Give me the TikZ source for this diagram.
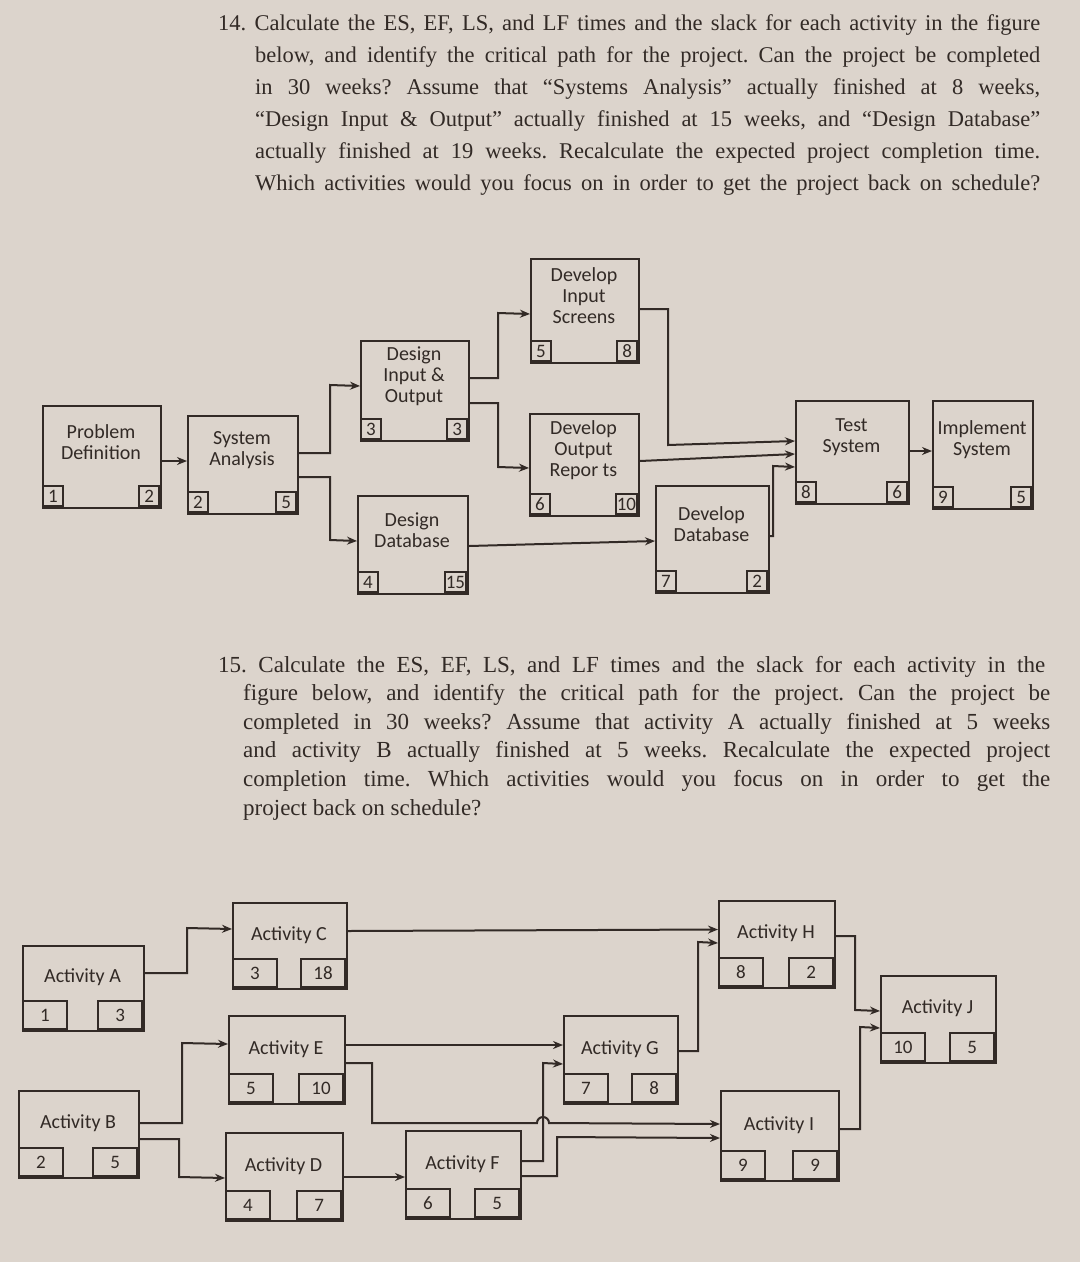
\documentclass[tikz,border=0pt]{standalone}
\usepackage{fontspec}
\setmainfont{Liberation Serif}
\newfontfamily\diafont{Carlito}
\usetikzlibrary{arrows.meta,calc}
\definecolor{paper}{RGB}{220,212,204}
\definecolor{ink}{RGB}{50,42,38}
\newcommand\qline[4]{\node[anchor=base west,inner sep=0pt] at (#1,#2) {\makebox[#3pt][s]{#4}};}
\newcommand\abox[8]{%
  \node[box,minimum width={(#4-#2)*1pt},minimum height={(#5-#3)*1pt},anchor=north west] (#1) at (#2,#3) {};
  \node[lbl] at ({(#2+#4)/2},{(#3+#5-\ch)/2+\toff}) {#6};
  \node[cell,anchor=south west] at (#2,#5) {#7};
  \node[cell,anchor=south east] at (#4,#5) {#8};}
\tikzset{
  box/.style={draw=ink,line width=2pt,inner sep=0pt},
  cell/.style={draw=ink,line width=1.8pt,minimum width=\cw pt,minimum height=\ch pt,inner sep=1pt,text=ink,font=\diafont\fontsize{19}{20}\selectfont},
  lbl/.style={align=center,text=ink,font=\diafont\fontsize{20}{21}\selectfont},
  arr/.style={draw=ink,line width=2pt,-{Stealth[length=10pt,width=8pt]}},
}
\begin{document}
\frenchspacing
\begin{tikzpicture}[x=1pt,y=-1pt]
\fill[paper] (0,0) rectangle (1080,1262);
\useasboundingbox (0,0) rectangle (1080,1262);
\begin{scope}[text=ink]
\fontsize{22.5}{24}\selectfont
\qline{218}{30}{822}{14. Calculate the ES, EF, LS, and LF times and the slack for each activity in the figure}
\qline{255}{62}{785}{below, and identify the critical path for the project. Can the project be completed}
\qline{255}{94}{785}{in 30 weeks? Assume that “Systems Analysis” actually finished at 8 weeks,}
\qline{255}{126}{785}{“Design Input \& Output” actually finished at 15 weeks, and “Design Database”}
\qline{255}{158}{785}{actually finished at 19 weeks. Recalculate the expected project completion time.}
\qline{255}{190}{785}{Which activities would you focus on in order to get the project back on schedule?}
\fontsize{23}{24}\selectfont
\qline{218}{672}{827}{15. Calculate the ES, EF, LS, and LF times and the slack for each activity in the}
\qline{243}{700}{807}{figure below, and identify the critical path for the project. Can the project be}
\qline{243}{729}{807}{completed in 30 weeks? Assume that activity A actually finished at 5 weeks}
\qline{243}{757}{807}{and activity B actually finished at 5 weeks. Recalculate the expected project}
\qline{243}{786}{807}{completion time. Which activities would you focus on in order to get the}
\node[anchor=base west,inner sep=0pt] at (243,815) {project back on schedule?};
\end{scope}
% top diagram
\def\cw{20}\def\ch{20}\def\toff{-4}
\abox{pd}{42}{405}{160}{507}{Problem\\Definition}{1}{2}
\abox{sa}{187}{415}{297}{513}{System\\Analysis}{2}{5}
\abox{dio}{360}{340}{468}{440}{Design\\Input \&\\Output}{3}{3}
\abox{dd}{357}{495}{467}{593}{Design\\Database}{4}{15}
\abox{dis}{530}{258}{638}{362}{Develop\\Input\\Screens}{5}{8}
\abox{dor}{529}{413}{638}{515}{Develop\\Output\\Repor ts}{6}{10}
\abox{devdb}{655}{485}{768}{592}{Develop\\Database}{7}{2}
\abox{ts}{795}{400}{908}{503}{Test\\System}{8}{6}
\abox{is}{932}{400}{1032}{508}{Implement\\System}{9}{5}
\draw[arr] ([yshift=-4pt]pd.east) -- ([yshift=4pt]sa.west);
\draw[arr] ([yshift=12pt]sa.east) -| (330,385) -- ([yshift=5pt]dio.west);
\draw[arr] ([yshift=-12pt]sa.east) -| (330,540) -- ([yshift=4pt]dd.west);
\draw[arr] ([yshift=13pt]dio.east) -| (498,313) -- ([yshift=-3pt]dis.west);
\draw[arr] ([yshift=-12pt]dio.east) -| (498,467) -- ([yshift=-3pt]dor.west);
\draw[arr] ([yshift=2pt]dis.east) -| (668,445) -- ([yshift=11.5pt]ts.west);
\draw[arr] ([yshift=4pt]dor.east) -- ([yshift=-1.5pt]ts.west);
\draw[arr] ([yshift=-1pt]dd.east) -- ([yshift=-1.5pt]devdb.west);
\draw[arr] ([yshift=3.5pt]devdb.east) -| (773,466) -- ([yshift=-14.5pt]ts.west);
\draw[arr] ([yshift=1.5pt]ts.east) -- ([yshift=4pt]is.west);
% bottom diagram
\def\cw{44}\def\ch{28}\def\toff{4}
\abox{a}{22}{945}{143}{1030}{Activity A}{1}{3}
\abox{c}{232}{902}{346}{988}{Activity C}{3}{18}
\abox{e}{228}{1015}{344}{1103}{Activity E}{5}{10}
\abox{b}{18}{1090}{138}{1177}{Activity B}{2}{5}
\abox{d}{225}{1132}{342}{1220}{Activity D}{4}{7}
\abox{f}{405}{1130}{520}{1218}{Activity F}{6}{5}
\abox{g}{563}{1015}{677}{1103}{Activity G}{7}{8}
\abox{h}{718}{900}{834}{987}{Activity H}{8}{2}
\abox{i}{720}{1090}{838}{1180}{Activity I}{9}{9}
\abox{j}{880}{975}{995}{1062}{Activity J}{10}{5}
\draw[arr] ([yshift=15.5pt]a.east) -| (187,928) -- ([yshift=17pt]c.west);
\draw[arr] ([yshift=15pt]c.east) -- ([yshift=15pt]h.west);
\draw[arr] ([yshift=11.5pt]b.east) -| (182,1043) -- ([yshift=16pt]e.west);
\draw[arr] ([yshift=-4.5pt]b.east) -| (179,1177) -- ([yshift=-1pt]d.west);
\draw[arr] ([yshift=15pt]e.east) -- ([yshift=15pt]g.west);
\draw[arr] ([yshift=-3pt]e.east) -| (372,1123) -- (537,1123) arc[start angle=180,end angle=360,radius=6] -- ([yshift=12pt]i.west);
\draw[arr] (d.east) -- ([yshift=-2pt]f.west);
\draw[arr] ([yshift=14pt]f.east) -| (543,1063) -- ([yshift=-4pt]g.west);
\draw[arr] ([yshift=-1pt]f.east) -| (557,1137) -- ([yshift=-2pt]i.west);
\draw[arr] ([yshift=9pt]g.east) -| (698,942) -- ([yshift=1.5pt]h.west);
\draw[arr] ([yshift=8.5pt]h.east) -| (855,1010) -- ([yshift=8.5pt]j.west);
\draw[arr] ([yshift=7pt]i.east) -| (860,1027) -- ([yshift=-8.5pt]j.west);
\end{tikzpicture}
\end{document}
